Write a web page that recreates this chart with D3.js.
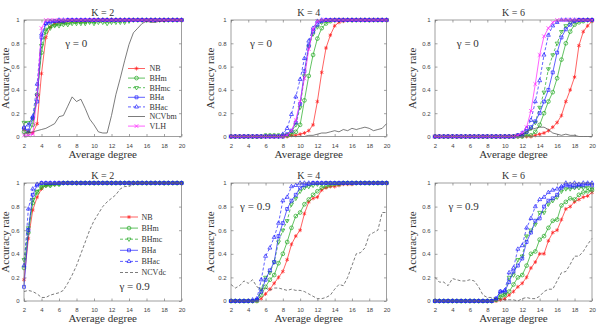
<!DOCTYPE html>
<html>
<head>
<meta charset="utf-8">
<script src="https://cdn.jsdelivr.net/npm/d3@7"></script>
<style>
  body { margin: 0; background: #fff; }
  svg { display: block; }
</style>
</head>
<body>
<svg id="chart" width="598" height="332"></svg>
<script>
// x values shared by every curve
const degrees = [2,2.5,3,3.5,4,4.5,5,5.5,6,6.5,7,7.5,8,8.5,9,9.5,10,10.5,11,11.5,
                 12,12.5,13,13.5,14,14.5,15,15.5,16,16.5,17,17.5,18,18.5,19,19.5,20];
const xTicks = [2,4,6,8,10,12,14,16,18,20];
const yTicks = [0,0.2,0.4,0.6,0.8,1];
const yTickLabels = ['0','0.2','0.4','0.6','0.8','1'];

// K = 2, gamma = 0
const nbA   = [0.06,0.04,0.03,0.11,0.54,0.85,0.94,0.97,0.98,0.98, 0.99,0.99,0.99,0.99,0.99,1,1,1,1,1, 1,1,1,1,1,1,1,1,1,1, 1,1,1,1,1,1,1];
const bhmA  = [0.04,0.03,0.10,0.36,0.72,0.90,0.95,0.96,0.97,0.98, 0.98,0.99,0.99,0.99,0.99,0.99,0.99,1,1,1, 1,1,1,1,1,1,1,1,1,1, 1,1,1,1,1,1,1];
const bhmcA = [0.12,0.12,0.15,0.35,0.78,0.92,0.93,0.95,0.95,0.96, 0.96,0.97,0.97,0.97,0.97,0.98,0.97,0.98,0.98,0.97, 0.98,0.98,0.98,0.98,0.99,1,1,1,1,1, 1,1,1,1,1,1,1];
const bhaA  = [0.07,0.05,0.16,0.30,0.85,0.97,0.98,0.99,0.99,0.99, 1,1,1,1,1,1,1,1,1,1, 1,1,1,1,1,1,1,1,1,1, 1,1,1,1,1,1,1];
const bhacA = [0.08,0.10,0.17,0.45,0.88,0.97,0.99,0.99,1,1, 1,1,1,1,1,1,1,1,1,1, 1,1,1,1,1,1,1,1,1,1, 1,1,1,1,1,1,1];
const ncvA  = [0.02,0.03,0.04,0.05,0.06,0.07,0.09,0.11,0.17,0.18, 0.26,0.34,0.30,0.32,0.24,0.15,0.10,0.04,0.03,0.03, 0.18,0.36,0.50,0.65,0.79,0.89,0.93,0.97,0.99,0.98, 0.98,0.99,0.99,1,1,1,1];
const vlhA  = [0.01,0.01,0.02,0.35,0.93,1,1,1,1,1, 1,1,1,1,1,1,1,1,1,1, 1,1,1,1,1,1,1,1,1,1, 1,1,1,1,1,1,1];

// K = 4, gamma = 0
const nbB   = [0,0,0,0,0,0,0,0,0,0, 0,0,0,0,0.01,0.01,0.02,0.03,0.05,0.10, 0.30,0.55,0.76,0.87,0.95,0.98,0.99,1,1,1, 1,1,1,1,1,1,1];
const bhmB  = [0,0,0,0,0,0,0,0,0.01,0.01, 0.01,0.01,0.01,0.01,0.02,0.04,0.10,0.31,0.52,0.70, 0.84,0.93,0.97,0.99,1,1,1,1,1,1, 1,1,1,1,1,1,1];
const bhmcB = [0,0,0,0,0,0,0,0,0,0, 0,0,0,0.01,0.04,0.10,0.25,0.52,0.77,0.88, 0.94,0.98,0.99,1,1,1,1,1,1,1, 1,1,1,1,1,1,1];
const bhaB  = [0,0,0,0,0,0,0,0,0,0, 0,0,0,0.02,0.05,0.12,0.28,0.56,0.78,0.90, 0.96,0.99,1,1,1,1,1,1,1,1, 1,1,1,1,1,1,1];
const bhacB = [0,0,0,0,0,0,0,0,0,0, 0,0,0.02,0.07,0.19,0.34,0.49,0.67,0.82,0.93, 0.99,1,1,1,1,1,1,1,1,1, 1,1,1,1,1,1,1];
const ncvB  = [0,0,0,0,0,0,0,0,0,0, 0,0,0,0,0,0,0,0,0.01,0.01, 0.02,0.03,0.03,0.04,0.05,0.04,0.06,0.05,0.07,0.06, 0.07,0.08,0.07,0.05,0.06,0.07,0.11];
const vlhB  = [0,0,0,0,0,0,0,0,0,0, 0,0,0,0.01,0.05,0.14,0.30,0.50,0.75,0.92, 0.99,1,1,1,1,1,1,1,1,1, 1,1,1,1,1,1,1];

// K = 6, gamma = 0
const nbC   = [0,0,0,0,0,0,0,0,0,0, 0,0,0,0,0,0,0,0,0,0, 0,0,0,0.01,0.02,0.03,0.05,0.08,0.12,0.18, 0.30,0.40,0.51,0.78,0.90,0.95,0.99];
const bhmC  = [0,0,0,0,0,0,0,0,0,0, 0,0,0,0,0,0,0,0,0,0, 0,0.01,0.01,0.04,0.10,0.20,0.30,0.38,0.50,0.66, 0.80,0.90,0.96,0.98,0.99,1,1];
const bhmcC = [0,0,0,0,0,0,0,0,0,0, 0,0,0,0,0,0,0,0,0,0.01, 0.01,0.03,0.07,0.12,0.25,0.38,0.58,0.70,0.80,0.90, 0.95,0.98,0.99,1,1,1,1];
const bhaC  = [0,0,0,0,0,0,0,0,0,0, 0,0,0,0,0,0,0,0,0,0.01, 0.01,0.04,0.08,0.13,0.20,0.30,0.40,0.55,0.72,0.85, 0.92,0.96,0.99,1,1,1,1];
const bhacC = [0,0,0,0,0,0,0,0,0,0, 0,0,0,0,0,0,0,0,0,0.01, 0.03,0.07,0.14,0.30,0.48,0.70,0.87,0.95,0.98,1, 1,1,1,1,1,1,1];
const ncvC  = [0,0,0,0,0,0,0,0,0,0, 0,0,0,0,0,0,0,0,0.01,0.01, 0.02,0.04,0.06,0.07,0.08,0.08,0.06,0.03,0.02,0.01, 0.02,0.01,0.01,0,0,0,0];
const vlhC  = [0,0,0,0,0,0,0,0,0,0, 0,0,0,0,0,0,0,0,0,0.01, 0.03,0.08,0.22,0.45,0.70,0.86,0.93,0.98,1,1, 1,1,1,1,1,1,1];

// K = 2, gamma = 0.9
const nbD   = [0.18,0.53,0.77,0.88,0.95,0.98,0.99,0.99,1,1, 1,1,1,1,1,1,1,1,1,1, 1,1,1,1,1,1,1,1,1,1, 1,1,1,1,1,1,1];
const bhmD  = [0.28,0.58,0.83,0.92,0.96,0.98,0.98,0.99,0.99,1, 1,1,1,1,1,1,1,1,1,1, 1,1,1,1,1,1,1,1,1,1, 1,1,1,1,1,1,1];
const bhmcD = [0.35,0.62,0.86,0.93,0.97,0.98,0.98,0.99,0.99,1, 1,1,1,1,1,1,1,1,1,1, 1,1,1,1,1,1,1,1,1,1, 1,1,1,1,1,1,1];
const bhaD  = [0.12,0.60,0.90,0.98,1,1,1,1,1,1, 1,1,1,1,1,1,1,1,1,1, 1,1,1,1,1,1,1,1,1,1, 1,1,1,1,1,1,1];
const bhacD = [0.30,0.78,0.95,0.99,1,1,1,1,1,1, 1,1,1,1,1,1,1,1,1,1, 1,1,1,1,1,1,1,1,1,1, 1,1,1,1,1,1,1];
const ncvD  = [0.08,0.09,0.08,0.06,0.03,0.03,0.05,0.06,0.07,0.09, 0.15,0.22,0.30,0.40,0.50,0.60,0.68,0.74,0.80,0.84, 0.87,0.90,0.95,0.97,0.97,0.99,1,1,1,1, 1,1,1,1,1,1,1];

// K = 4, gamma = 0.9
const nbE   = [0,0,0,0,0,0,0,0.02,0.06,0.10, 0.15,0.20,0.25,0.35,0.48,0.55,0.60,0.74,0.84,0.87, 0.88,0.94,0.96,0.97,0.97,0.98,0.99,0.99,0.99,1, 1,1,1,1,1,1,1];
const bhmE  = [0,0,0,0,0,0,0,0.05,0.12,0.18, 0.22,0.32,0.40,0.50,0.62,0.72,0.75,0.82,0.86,0.90, 0.93,0.96,0.97,0.98,0.99,0.99,1,1,1,1, 1,1,1,1,1,1,1];
const bhmcE = [0,0,0,0,0,0,0.01,0.10,0.20,0.24, 0.33,0.50,0.60,0.68,0.82,0.87,0.93,0.96,0.97,0.98, 0.99,0.99,1,1,1,1,1,1,1,1, 1,1,1,1,1,1,1];
const bhaE  = [0,0,0,0,0,0,0.01,0.08,0.18,0.26, 0.33,0.55,0.66,0.78,0.85,0.90,0.96,0.98,0.99,1, 1,1,1,1,1,1,1,1,1,1, 1,1,1,1,1,1,1];
const bhacE = [0,0,0,0,0,0.01,0.02,0.18,0.38,0.45, 0.54,0.66,0.85,0.88,0.97,0.98,1,1,1,1, 1,1,1,1,1,1,1,1,1,1, 1,1,1,1,1,1,1];
const ncvE  = [0.14,0.11,0.13,0.17,0.15,0.18,0.12,0.10,0.11,0.09, 0.11,0.11,0.10,0.09,0.10,0.09,0.09,0.08,0.06,0.04, 0.02,0.02,0.03,0.05,0.10,0.14,0.13,0.20,0.30,0.40, 0.41,0.45,0.56,0.58,0.60,0.75,0.75];

// K = 6, gamma = 0.9
const nbF   = [0,0,0,0,0,0,0,0,0,0, 0,0,0,0,0,0.01,0.02,0.05,0.08,0.12, 0.15,0.20,0.28,0.33,0.40,0.40,0.51,0.58,0.60,0.69, 0.78,0.80,0.84,0.86,0.88,0.89,0.92];
const bhmF  = [0,0,0,0,0,0,0,0,0,0, 0,0,0,0,0.01,0.03,0.05,0.08,0.14,0.20, 0.22,0.30,0.40,0.42,0.52,0.55,0.62,0.68,0.69,0.81, 0.84,0.87,0.86,0.90,0.92,0.93,0.94];
const bhmcF = [0,0,0,0,0,0,0,0,0,0, 0,0,0,0,0.01,0.05,0.06,0.20,0.22,0.35, 0.38,0.55,0.60,0.65,0.75,0.75,0.82,0.85,0.88,0.93, 0.95,0.95,0.96,0.96,0.96,0.96,0.95];
const bhaF  = [0,0,0,0,0,0,0,0,0,0, 0,0,0,0,0.02,0.08,0.08,0.16,0.25,0.30, 0.36,0.50,0.58,0.68,0.70,0.80,0.85,0.87,0.90,0.96, 0.98,0.97,0.97,0.98,0.98,0.99,0.98];
const bhacF = [0,0,0,0,0,0,0,0,0,0, 0,0,0,0,0.02,0.08,0.09,0.24,0.28,0.44, 0.47,0.62,0.70,0.80,0.86,0.88,0.92,0.94,0.95,0.97, 1,0.99,1,0.99,1,1,1];
const ncvF  = [0.20,0.16,0.16,0.13,0.19,0.18,0.17,0.17,0.18,0.17, 0.12,0.05,0.03,0.03,0.02,0.02,0.01,0.01,0.01,0, 0.02,0.03,0.02,0.02,0.04,0.08,0.10,0.10,0.17,0.24, 0.25,0.31,0.38,0.38,0.42,0.48,0.53];

// look of each method (MATLAB-like)
const styles = {
  NB:    { color: '#ff2020', dash: null,  symbol: d3.symbolAsterisk || d3.symbolCross, rot: 0 },
  BHm:   { color: '#20a820', dash: null,  symbol: d3.symbolCircle, rot: 0 },
  BHmc:  { color: '#20a820', dash: '3,2', symbol: d3.symbolTriangle2 || d3.symbolTriangle, rot: 180 },
  BHa:   { color: '#2020ff', dash: null,  symbol: d3.symbolSquare2 || d3.symbolSquare, rot: 0 },
  BHac:  { color: '#2020ff', dash: '3,2', symbol: d3.symbolTriangle2 || d3.symbolTriangle, rot: 0 },
  NCVbm: { color: '#444444', dash: null,  symbol: null },
  NCVdc: { color: '#444444', dash: '3,2', symbol: null },
  VLH:   { color: '#ff20ff', dash: null,  symbol: d3.symbolTimes || d3.symbolCross, rot: 0 }
};

const colLeft  = [24, 231, 435];
const colRight = [181.5, 386.5, 592];
const rowTop   = [20, 183];
const rowBot   = [136.5, 301];
const yLabelX  = [8.5, 214, 415.5];

const panels = [
  { title: 'K = 2', gamma: 'γ = 0',   gx: 6.7,  gy: 0.80, col: 0, row: 0,
    series: [['NB', nbA], ['BHm', bhmA], ['BHmc', bhmcA], ['BHa', bhaA], ['BHac', bhacA], ['NCVbm', ncvA], ['VLH', vlhA]],
    legend: { x0: 128, x1: 145, tx: 149.5, y0: 68.5, dy: 9.6 } },
  { title: 'K = 4', gamma: 'γ = 0',   gx: 4.2,  gy: 0.80, col: 1, row: 0,
    series: [['NB', nbB], ['BHm', bhmB], ['BHmc', bhmcB], ['BHa', bhaB], ['BHac', bhacB], ['NCVbm', ncvB], ['VLH', vlhB]] },
  { title: 'K = 6', gamma: 'γ = 0',   gx: 4.5,  gy: 0.80, col: 2, row: 0,
    series: [['NB', nbC], ['BHm', bhmC], ['BHmc', bhmcC], ['BHa', bhaC], ['BHac', bhacC], ['NCVbm', ncvC], ['VLH', vlhC]] },
  { title: 'K = 2', gamma: 'γ = 0.9', gx: 12.9, gy: 0.13, col: 0, row: 1,
    series: [['NB', nbD], ['BHm', bhmD], ['BHmc', bhmcD], ['BHa', bhaD], ['BHac', bhacD], ['NCVdc', ncvD]],
    legend: { x0: 120, x1: 138, tx: 141.5, y0: 217, dy: 11.1 } },
  { title: 'K = 4', gamma: 'γ = 0.9', gx: 3.05, gy: 0.80, col: 1, row: 1,
    series: [['NB', nbE], ['BHm', bhmE], ['BHmc', bhmcE], ['BHa', bhaE], ['BHac', bhacE], ['NCVdc', ncvE]] },
  { title: 'K = 6', gamma: 'γ = 0.9', gx: 3.55, gy: 0.80, col: 2, row: 1,
    series: [['NB', nbF], ['BHm', bhmF], ['BHmc', bhmcF], ['BHa', bhaF], ['BHac', bhacF], ['NCVdc', ncvF]] }
];

const svg = d3.select('#chart');
const serif = '"Liberation Serif", "Times New Roman", serif';
const sans = '"Liberation Sans", Arial, sans-serif';

function marker(sel, name, size) {
  const st = styles[name];
  if (!st.symbol) return;
  sel.append('path')
    .attr('d', d3.symbol(st.symbol, size)())
    .attr('transform', d => `translate(${d[0]},${d[1]}) rotate(${st.rot})`)
    .attr('fill', 'none')
    .attr('stroke', st.color)
    .attr('stroke-width', 0.7);
}

function drawPanel(p) {
  const x0 = colLeft[p.col], x1 = colRight[p.col];
  const y0 = rowTop[p.row], y1 = rowBot[p.row];

  const x = d3.scaleLinear().domain([2, 20]).range([x0, x1]);
  const y = d3.scaleLinear().domain([0, 1]).range([y1, y0]);

  const g = svg.append('g');

  g.append('rect')
    .attr('x', x0).attr('y', y0)
    .attr('width', x1 - x0).attr('height', y1 - y0)
    .attr('fill', '#fff');

  // axes with inward ticks on all four sides
  const axB = g.append('g').attr('transform', `translate(0,${y1})`)
    .call(d3.axisBottom(x).tickValues(xTicks).tickSizeInner(-2.5).tickSizeOuter(0).tickPadding(7));
  const axL = g.append('g').attr('transform', `translate(${x0},0)`)
    .call(d3.axisLeft(y).tickValues(yTicks).tickFormat((d, i) => yTickLabels[i])
      .tickSizeInner(-2.5).tickSizeOuter(0).tickPadding(4.5));
  const axT = g.append('g').attr('transform', `translate(0,${y0})`)
    .call(d3.axisTop(x).tickValues(xTicks).tickSizeInner(-2.5).tickSizeOuter(0).tickFormat(''));
  const axR = g.append('g').attr('transform', `translate(${x1},0)`)
    .call(d3.axisRight(y).tickValues(yTicks).tickSizeInner(-2.5).tickSizeOuter(0).tickFormat(''));

  [axB, axL, axT, axR].forEach(a => {
    a.select('.domain').remove();
    a.selectAll('.tick line').attr('stroke', '#666').attr('stroke-width', 0.6);
    a.selectAll('.tick text').attr('font-family', sans).attr('font-size', 6).attr('fill', '#444');
  });

  // curves
  const line = d3.line().x((d, i) => x(degrees[i])).y(d => y(d));
  p.series.forEach(([name, vals]) => {
    const st = styles[name];
    g.append('path')
      .datum(vals)
      .attr('d', line)
      .attr('fill', 'none')
      .attr('stroke', st.color)
      .attr('stroke-width', 0.7)
      .attr('stroke-dasharray', st.dash);
    g.append('g').selectAll('g')
      .data(vals.map((v, i) => [x(degrees[i]), y(v)]))
      .join('g')
      .call(sel => marker(sel, name, 11));
  });

  // box on top
  g.append('rect')
    .attr('x', x0).attr('y', y0)
    .attr('width', x1 - x0).attr('height', y1 - y0)
    .attr('fill', 'none').attr('stroke', '#777').attr('stroke-width', 0.7);

  // title, labels
  g.append('text')
    .attr('x', (x0 + x1) / 2).attr('y', y0 - 4)
    .attr('text-anchor', 'middle')
    .attr('font-family', serif).attr('font-size', 10).attr('fill', '#333')
    .text(p.title);
  g.append('text')
    .attr('x', (x0 + x1) / 2).attr('y', y1 + 21)
    .attr('text-anchor', 'middle')
    .attr('font-family', serif).attr('font-size', 11).attr('fill', '#333')
    .text('Average degree');
  g.append('text')
    .attr('transform', `translate(${yLabelX[p.col]},${(y0 + y1) / 2}) rotate(-90)`)
    .attr('text-anchor', 'middle')
    .attr('font-family', serif).attr('font-size', 11).attr('fill', '#333')
    .text('Accuracy rate');
  g.append('text')
    .attr('x', x(p.gx)).attr('y', y(p.gy))
    .attr('dy', '0.35em')
    .attr('font-family', serif).attr('font-size', 11).attr('fill', '#333')
    .text(p.gamma);

  // legend
  if (p.legend) {
    const L = p.legend;
    const n = p.series.length;
    g.append('rect')
      .attr('x', L.x0 - 2).attr('y', L.y0 - L.dy / 2)
      .attr('width', x1 - L.x0 - 1).attr('height', L.dy * n)
      .attr('fill', '#fff');
    p.series.forEach(([name], i) => {
      const st = styles[name];
      const ly = L.y0 + i * L.dy;
      g.append('line')
        .attr('x1', L.x0).attr('x2', L.x1).attr('y1', ly).attr('y2', ly)
        .attr('stroke', st.color).attr('stroke-width', 0.7)
        .attr('stroke-dasharray', st.dash);
      g.append('g').datum([(L.x0 + L.x1) / 2, ly]).call(sel => marker(sel, name, 11));
      g.append('text')
        .attr('x', L.tx).attr('y', ly).attr('dy', '0.35em')
        .attr('font-family', serif).attr('font-size', 8).attr('fill', '#333')
        .text(name);
    });
  }
}

panels.forEach(drawPanel);
</script>
</body>
</html>
